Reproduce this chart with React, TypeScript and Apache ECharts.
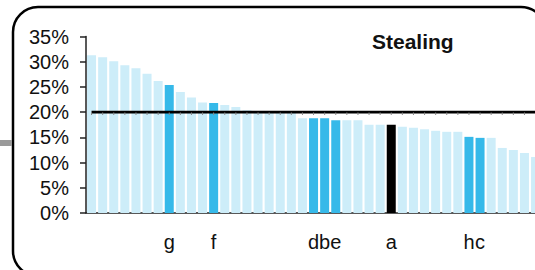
import React, { useEffect, useRef } from "react";
import * as echarts from "echarts";

const values: number[] = [
  31.3, 30.9, 30.1, 29.3, 28.7, 27.6, 26.2, 25.4, 24.0, 22.9, 21.9, 21.8, 21.4, 21.0,
  20.4, 20.1, 20.0, 19.9, 19.9, 18.8, 18.8, 18.8, 18.4, 18.4, 18.4, 17.5, 17.5, 17.5,
  17.1, 16.9, 16.6, 16.3, 16.1, 16.1, 15.1, 14.9, 14.9, 12.9, 12.5, 11.9, 11.1,
];
const labels: string[] = [
  "", "", "", "", "", "", "", "g", "", "", "", "f", "", "", "",
  "", "", "", "", "", "d", "b", "e", "", "", "", "", "a", "", "",
  "", "", "", "", "h", "c", "", "", "", "", "",
];
const referenceLabel = "a";
const benchmark = 20;
const title = "Stealing";
const yTicks = { min: 0, max: 35, interval: 5 };

const FONT = '"Liberation Sans", Arial, sans-serif';

export default function App() {
  const ref = useRef<HTMLDivElement>(null);
  useEffect(() => {
    if (!ref.current) return;
    const chart = echarts.init(ref.current, undefined, { renderer: "svg" });
    const cats = values.map((_, i) => String(i));
    const band = 11.1;
    chart.setOption({
      animation: false,
      backgroundColor: "#fff",
      title: {
        text: title,
        left: 372,
        top: 31,
        textStyle: { fontFamily: FONT, fontSize: 21, fontWeight: "bold", color: "#111" },
        padding: 0,
      },
      grid: { left: 86, top: 36.5, width: band * values.length, height: 176.5 },
      xAxis: {
        type: "category",
        data: cats,
        axisLine: { lineStyle: { color: "#222", width: 1.5 } },
        axisTick: { show: false },
        axisLabel: {
          interval: 0,
          margin: 19,
          fontFamily: FONT,
          fontSize: 20,
          color: "#111",
          formatter: (_v: string, i: number) => labels[i],
        },
      },
      yAxis: {
        type: "value",
        min: yTicks.min,
        max: yTicks.max,
        interval: yTicks.interval,
        splitLine: { show: false },
        axisLine: { show: true, lineStyle: { color: "#222", width: 1.5 } },
        axisTick: { show: true, length: 6, lineStyle: { color: "#222", width: 1.5 } },
        axisLabel: {
          margin: 17,
          fontFamily: FONT,
          fontSize: 20,
          color: "#111",
          formatter: "{value}%",
        },
      },
      series: [
        {
          type: "bar",
          barWidth: 9,
          data: values.map((v, i) => ({
            value: v,
            itemStyle: {
              color:
                labels[i] === referenceLabel
                  ? "#000000"
                  : labels[i] !== ""
                  ? "#36B9E9"
                  : "#CDEDF9",
            },
          })),
        },
        {
          type: "line",
          data: values.map(() => benchmark),
          lineStyle: { color: "#000", width: 2.6 },
          symbol: "rect",
          symbolSize: [1, 2.5],
          symbolOffset: [0, 1.5],
          itemStyle: { color: "#8a8a8a" },
          z: 5,
        },
      ],
      graphic: [
        {
          type: "rect",
          shape: { x: 13, y: 7, width: 533, height: 269, r: 25 },
          style: { fill: "none", stroke: "#000", lineWidth: 2.5 },
          z: 10,
        },
        {
          type: "rect",
          shape: { x: 0, y: 140, width: 12, height: 6 },
          style: { fill: "#9a9a9a" },
          z: 10,
        },
      ],
    });
    return () => chart.dispose();
  }, []);
  return (
    <div
      style={{
        position: "absolute",
        left: 0,
        top: 0,
        width: 535,
        height: 270,
        overflow: "hidden",
        background: "#fff",
      }}
    >
      <div ref={ref} style={{ width: 560, height: 270 }} />
    </div>
  );
}
